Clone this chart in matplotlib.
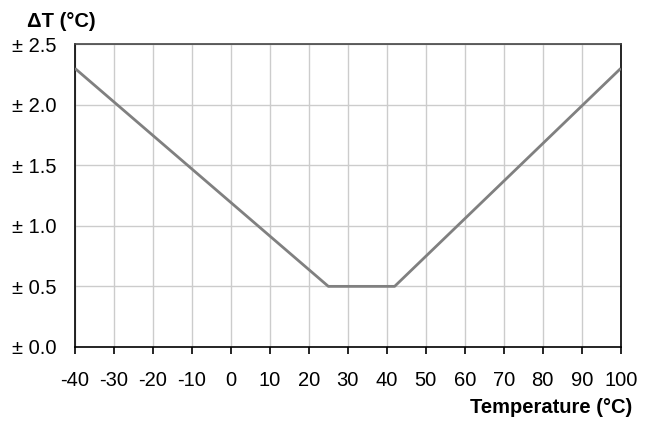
import matplotlib
matplotlib.use("Agg")
import matplotlib.pyplot as plt

plt.rcParams['font.family'] = ['Liberation Sans', 'DejaVu Sans']
plt.rcParams['axes.unicode_minus'] = False

# tolerance curve
temp = [-40, 25, 42, 100]
delta_t = [2.3, 0.5, 0.5, 2.3]

xticks = list(range(-40, 101, 10))
xlabels = [str(v) for v in xticks]
yticks = [0.0, 0.5, 1.0, 1.5, 2.0, 2.5]
ylabels = ["± %.1f" % v for v in yticks]

fig = plt.figure(figsize=(6.52, 4.21), dpi=100)
ax = fig.add_axes([0.115, 0.176, 0.837, 0.719])

ax.plot(temp, delta_t, color="#808080", lw=2, solid_capstyle="butt", zorder=3)

ax.set_xlim(-40, 100)
ax.set_ylim(0, 2.5)
ax.set_xticks(xticks)
ax.set_xticklabels(xlabels)
ax.set_yticks(yticks)
ax.set_yticklabels(ylabels)
ax.grid(True, color="#cccccc", lw=1)
ax.tick_params(axis="x", direction="out", length=5, width=1.2, pad=12.5, labelsize=14.5)
ax.tick_params(axis="y", length=0, pad=13, labelsize=14.5)
for s in ax.spines.values():
    s.set_linewidth(1.2)
ax.spines["top"].set_color("#444444")

fig.text(0.042, 0.95, "ΔT (°C)", fontsize=14.5, fontweight="bold", va="center", ha="left")
fig.text(0.969, 0.033, "Temperature (°C)", fontsize=14.5, fontweight="bold", va="center", ha="right")

fig.savefig("out.png", dpi=100)
